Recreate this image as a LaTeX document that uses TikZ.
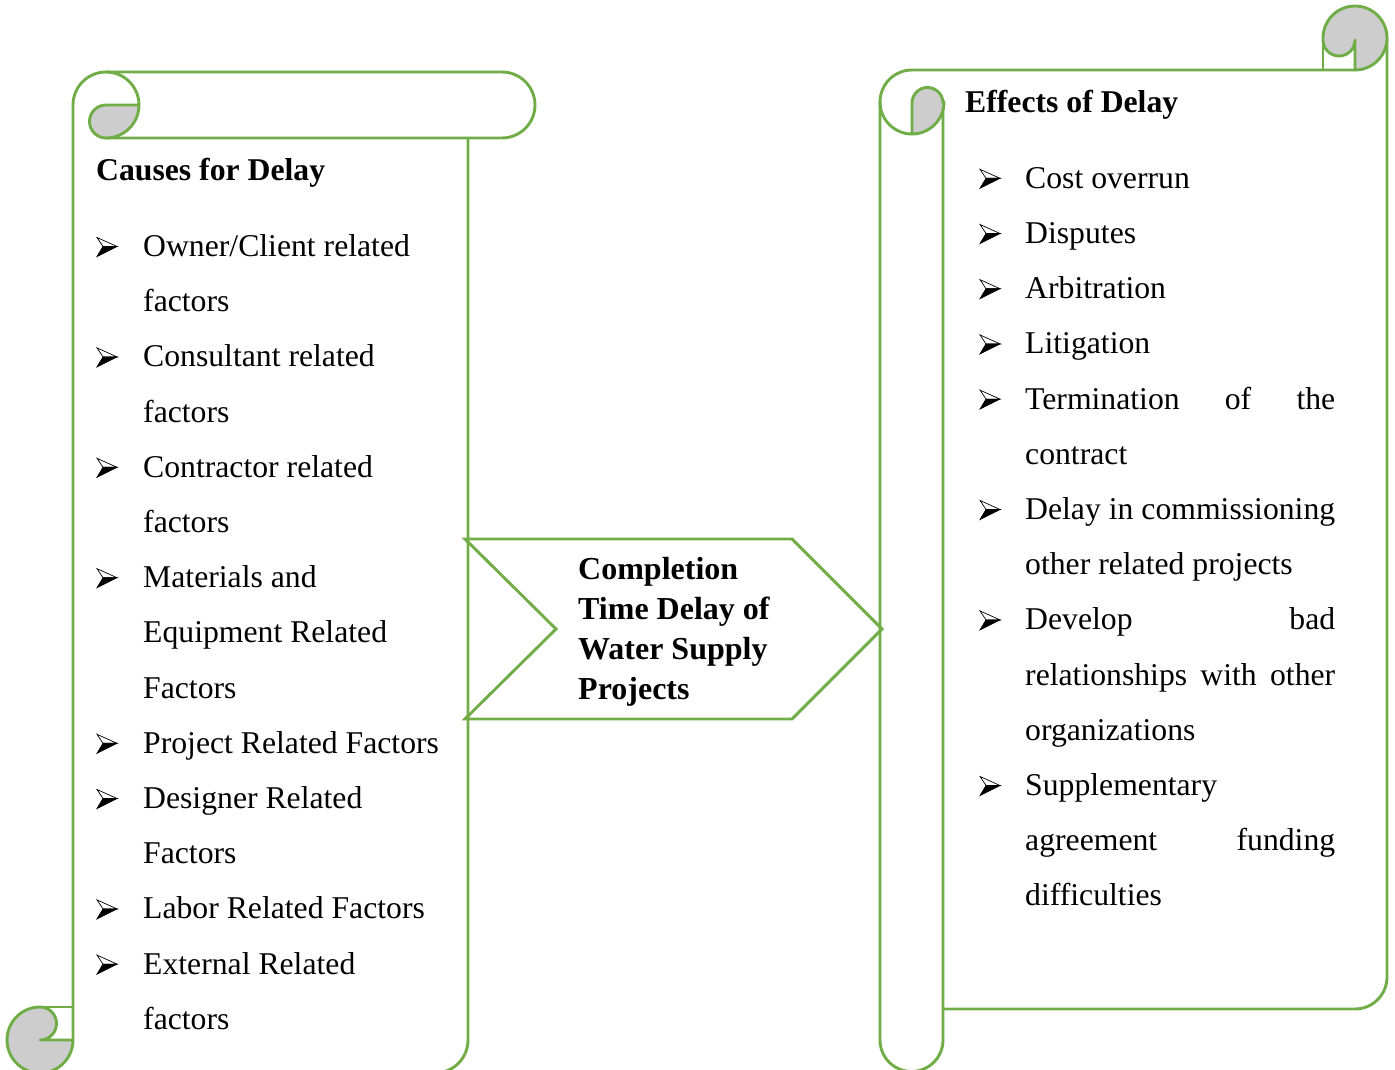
\documentclass[tikz,border=0pt]{standalone}
\usepackage{fontspec}
\setmainfont{Liberation Serif}
\definecolor{scrollgreen}{HTML}{70AD47}
\definecolor{curlgrey}{HTML}{CDCDCD}
\newcommand\jline[1]{\makebox[310pt][s]{#1}}

\begin{document}
\begin{tikzpicture}[x=1pt,y=-1pt,
  outline/.style={draw=scrollgreen,line width=2.9pt,line join=round,line cap=round},
  curl/.style={outline,fill=curlgrey},
  entry/.style={anchor=base west,inner sep=0pt,font=\fontsize{31.7}{39.2}\selectfont},
  heading/.style={anchor=base west,inner sep=0pt,font=\fontsize{31.7}{39.2}\selectfont\bfseries},
  bul/.pic={
    \filldraw[black,line width=0.7pt,fill=white] (0,-19) -- (20,-10) -- (6,-10) -- cycle;
    \filldraw[black,line width=0.7pt] (6,-10) -- (20,-10) -- (0,0) -- cycle;
  }]
\useasboundingbox (0,0) rectangle (1395,1070);

% ---------- left scroll: causes ----------
\draw[outline] (73,1040) -- (73,105) arc[start angle=180,end angle=270,radius=33]
  -- (502,72) arc[start angle=270,end angle=450,radius=33] -- (106,138);
\draw[outline] (106,72) arc[start angle=270,end angle=360,radius=33];
\draw[outline] (468,138) -- (468,1040) arc[start angle=0,end angle=90,radius=33] -- (40,1073);
% rolled edge, top
\draw[curl] (106,105) -- (139,105) arc[start angle=0,end angle=90,radius=33]
  arc[start angle=90,end angle=270,radius=16.5] -- cycle;
% rolled edge, bottom
\draw[curl] (40,1007) arc[start angle=270,end angle=0,radius=33] -- (40,1040)
  arc[start angle=90,end angle=-90,radius=16.5] -- cycle;
\draw[outline] (40,1007) -- (73,1007);

% ---------- right scroll: effects ----------
\draw[outline] (880,1040) -- (880,102) arc[start angle=180,end angle=270,radius=32] -- (1355,70);
\draw[outline] (880,102) arc[start angle=180,end angle=90,radius=32];
\draw[outline] (1387,38) -- (1387,977) arc[start angle=0,end angle=90,radius=32] -- (943,1009);
\draw[outline] (943,102) -- (943,1040) arc[start angle=0,end angle=180,radius=31.5];
% rolled edge, top left
\draw[curl] (912,134) -- (912,103) arc[start angle=180,end angle=360,radius=15.5]
  -- (944,102) arc[start angle=0,end angle=90,radius=32] -- cycle;
% rolled edge, top right
\draw[curl] (1323,38) arc[start angle=180,end angle=450,radius=32] -- (1355,40)
  arc[start angle=0,end angle=180,radius=16] -- cycle;
\draw[outline] (1323,40) -- (1323,70);

% ---------- centre chevron ----------
\draw[outline,line cap=butt,line join=miter] (465,539) -- (792,539) -- (882,629) -- (792,719)
  -- (465,719) -- (556,629) -- cycle;
\node[heading,align=left,anchor=north west,font=\fontsize{32}{39.8}\selectfont\bfseries]
  (centre) at (578,557.5) {Completion\\Time Delay of\\Water Supply\\Projects};

% ---------- causes list ----------
\node[heading] (causes) at (96,180) {Causes for Delay};
\pic at (97,256.5) {bul};
\node[entry] (c1) at (143,256.5) {Owner/Client related};
\node[entry] (c1b) at (143,311.7) {factors};
\pic at (97,366.9) {bul};
\node[entry] (c2) at (143,366.9) {Consultant related};
\node[entry] (c2b) at (143,422.1) {factors};
\pic at (97,477.3) {bul};
\node[entry] (c3) at (143,477.3) {Contractor related};
\node[entry] (c3b) at (143,532.5) {factors};
\pic at (97,587.7) {bul};
\node[entry] (c4) at (143,587.7) {Materials and};
\node[entry] (c4b) at (143,642.9) {Equipment Related};
\node[entry] (c4c) at (143,698.1) {Factors};
\pic at (97,753.3) {bul};
\node[entry] (c5) at (143,753.3) {Project Related Factors};
\pic at (97,808.5) {bul};
\node[entry] (c6) at (143,808.5) {Designer Related};
\node[entry] (c6b) at (143,863.7) {Factors};
\pic at (97,918.9) {bul};
\node[entry] (c7) at (143,918.9) {Labor Related Factors};
\pic at (97,974.1) {bul};
\node[entry] (c8) at (143,974.1) {External Related};
\node[entry] (c8b) at (143,1029.3) {factors};

% ---------- effects list ----------
\node[heading] (effects) at (965,113) {Effects of Delay};
\pic at (980,188.3) {bul};
\node[entry] (e1) at (1025,188.3) {Cost overrun};
\pic at (980,243.5) {bul};
\node[entry] (e2) at (1025,243.5) {Disputes};
\pic at (980,298.7) {bul};
\node[entry] (e3) at (1025,298.7) {Arbitration};
\pic at (980,353.9) {bul};
\node[entry] (e4) at (1025,353.9) {Litigation};
\pic at (980,409.1) {bul};
\node[entry] (e5) at (1025,409.1) {\jline{Termination of the}};
\node[entry] (e5b) at (1025,464.3) {contract};
\pic at (980,519.5) {bul};
\node[entry] (e6) at (1025,519.5) {\jline{Delay in commissioning}};
\node[entry] (e6b) at (1025,574.7) {other related projects};
\pic at (980,629.9) {bul};
\node[entry] (e7) at (1025,629.9) {\jline{Develop bad}};
\node[entry] (e7b) at (1025,685.1) {\jline{relationships with other}};
\node[entry] (e7c) at (1025,740.3) {organizations};
\pic at (980,795.5) {bul};
\node[entry] (e8) at (1025,795.5) {Supplementary};
\node[entry] (e8b) at (1025,850.7) {\jline{agreement funding}};
\node[entry] (e8c) at (1025,905.9) {difficulties};
\end{tikzpicture}
\end{document}
